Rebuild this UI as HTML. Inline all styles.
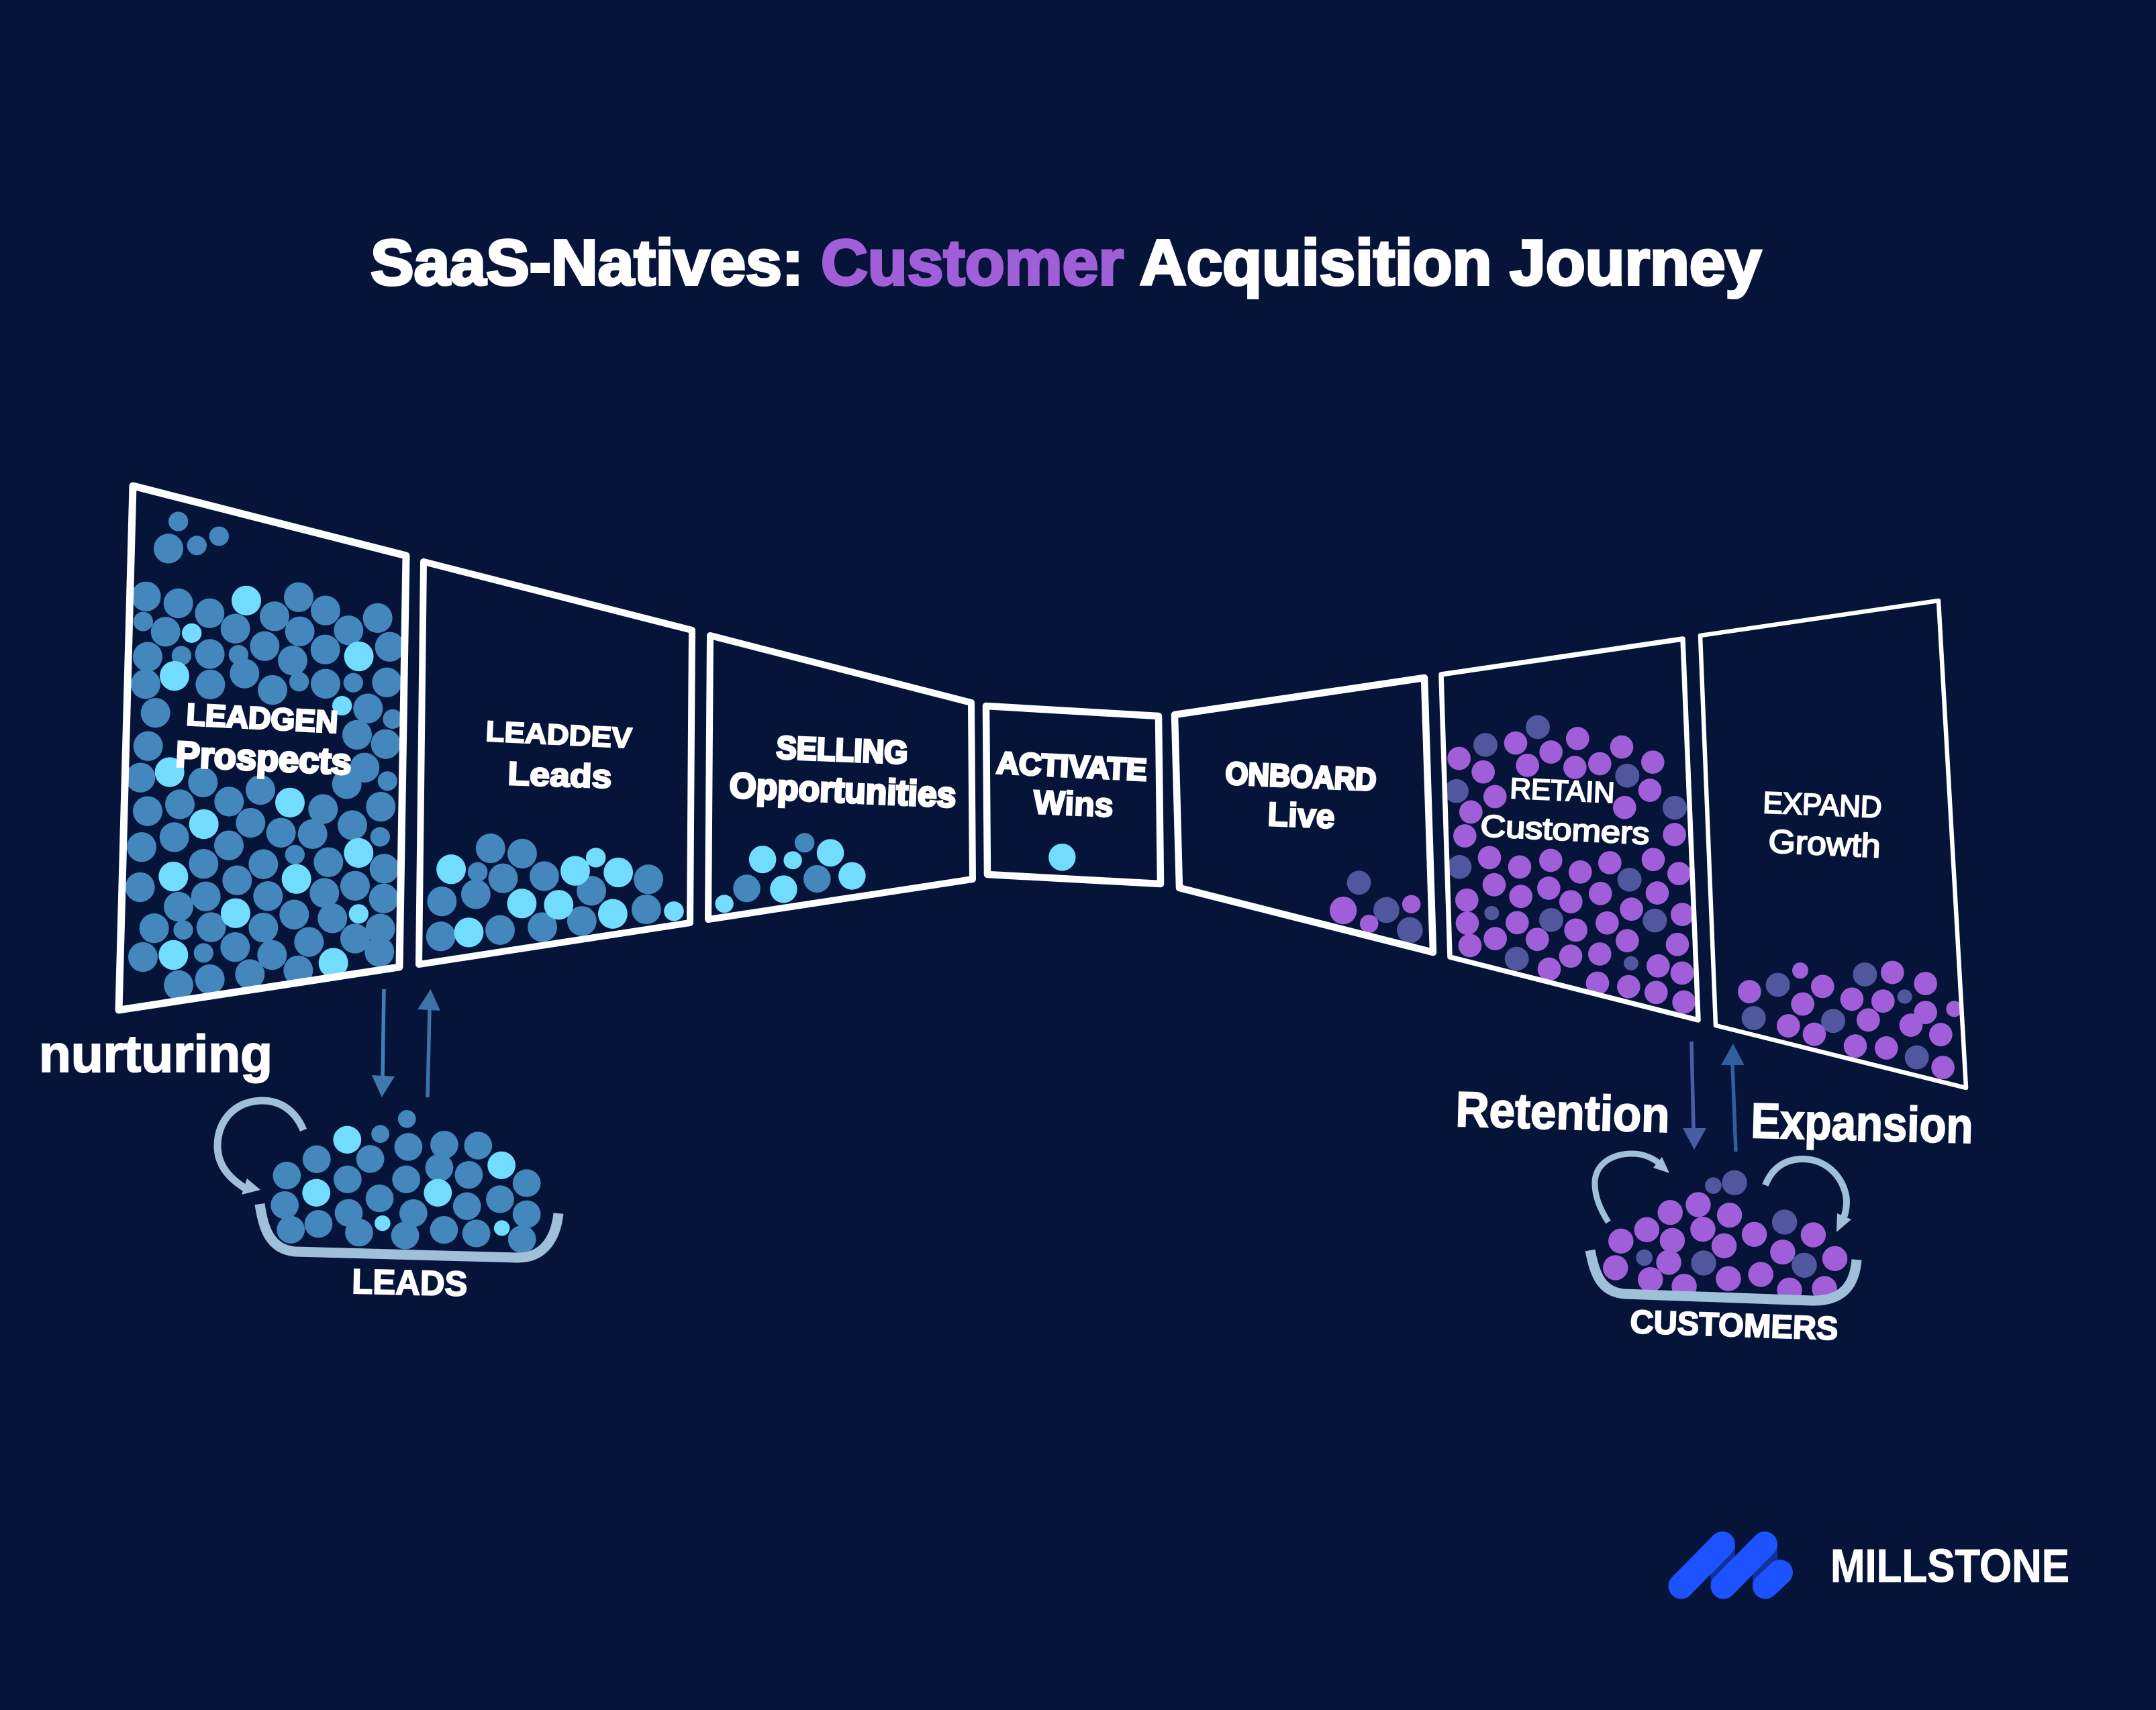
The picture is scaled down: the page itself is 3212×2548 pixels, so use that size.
<!DOCTYPE html>
<html><head><meta charset="utf-8"><title>SaaS-Natives: Customer Acquisition Journey</title>
<style>
html,body{margin:0;padding:0;background:#061439;}
svg{display:block}
text{font-family:"Liberation Sans",Arial,sans-serif;font-weight:700;fill:#fff;stroke:#fff;stroke-width:2px}
.p{fill:none;stroke:#fff;stroke-linejoin:round}
.pale{fill:none;stroke:#a0bfd9}
</style></head><body>
<svg width="3212" height="2548" viewBox="0 0 3212 2548" xmlns="http://www.w3.org/2000/svg">
<rect width="3212" height="2548" fill="#061439"/>
<defs>
<ellipse id="b1" rx="66" ry="43.5" fill="#4387bd"/><ellipse id="c1" rx="66" ry="43.5" fill="#72dcff"/><ellipse id="s1" rx="44" ry="28.5" fill="#4387bd"/><ellipse id="t1" rx="44" ry="28.5" fill="#72dcff"/>
<ellipse id="b3" rx="40" ry="56" fill="#4387bd"/><ellipse id="c3" rx="40" ry="56" fill="#72dcff"/><ellipse id="s3" rx="27" ry="37" fill="#4387bd"/><ellipse id="t3" rx="27" ry="37" fill="#72dcff"/>
<ellipse id="b4" rx="37" ry="52" fill="#4387bd"/><ellipse id="c4" rx="37" ry="52" fill="#72dcff"/><ellipse id="t4" rx="25" ry="34" fill="#72dcff"/>
<ellipse id="p5" rx="52" ry="44" fill="#a05fd8"/><ellipse id="i5" rx="54" ry="45" fill="#51579f"/><ellipse id="j5" rx="33" ry="27" fill="#51579f"/>
<ellipse id="p6" rx="52" ry="36" fill="#a05fd8"/><ellipse id="i6" rx="54" ry="37" fill="#51579f"/><ellipse id="q6" rx="36" ry="25" fill="#a05fd8"/><ellipse id="j6" rx="33" ry="22" fill="#51579f"/>
<ellipse id="b2" rx="39" ry="62" fill="#4387bd"/><ellipse id="c2" rx="39" ry="62" fill="#72dcff"/><ellipse id="s2" rx="25" ry="40" fill="#4387bd"/><ellipse id="t2" rx="22" ry="35" fill="#72dcff"/>
<ellipse id="p7" rx="35" ry="56" fill="#a05fd8"/><ellipse id="i7" rx="35" ry="56" fill="#51579f"/><ellipse id="j7" rx="23" ry="37" fill="#51579f"/>
<clipPath id="k1"><polygon points="198,724 605,828 595,1441 177,1505"/></clipPath>
<clipPath id="k2"><polygon points="631,837 1031,939 1028,1375 624,1437"/></clipPath>
<clipPath id="k6"><polygon points="2147,1005 2507,952 2530,1520 2160,1426"/></clipPath>
<clipPath id="k7"><polygon points="2533,947 2888,895 2929,1621 2556,1528"/></clipPath>
<clipPath id="k5"><polygon points="1750,1065 2122,1010 2135,1419 1757,1323"/></clipPath>
</defs>

<!-- title -->
<text x="552" y="424" font-size="96" textLength="645" lengthAdjust="spacingAndGlyphs" style="stroke-width:4px">SaaS-Natives:</text>
<text x="1223" y="424" font-size="96" textLength="451" lengthAdjust="spacingAndGlyphs" style="fill:#a05fd8;stroke:#a05fd8;stroke-width:4px">Customer</text>
<text x="1698" y="424" font-size="96" textLength="926" lengthAdjust="spacingAndGlyphs" style="stroke-width:4px">Acquisition Journey</text>

<!-- panel 1 balls -->
<g clip-path="url(#k1)"><g transform="translate(160 700) scale(.3333 .5102)">
<use href="#s1" x="317" y="151"/><use href="#s1" x="400" y="221"/><use href="#s1" x="499" y="194"/><use href="#b1" x="273" y="230"/>
<use href="#b1" x="173" y="370"/><use href="#b1" x="317" y="390"/><use href="#b1" x="457" y="419"/><use href="#c1" x="621" y="382"/><use href="#b1" x="855" y="372"/><use href="#b1" x="747" y="428"/><use href="#b1" x="975" y="411"/><use href="#b1" x="1208" y="433"/><use href="#b1" x="1078" y="469"/><use href="#b1" x="860" y="472"/><use href="#b1" x="572" y="464"/><use href="#b1" x="260" y="473"/><use href="#s1" x="160" y="443"/><use href="#t1" x="377" y="477"/>
<use href="#b1" x="180" y="546"/><use href="#s1" x="331" y="543"/><use href="#b1" x="458" y="538"/><use href="#s1" x="586" y="540"/><use href="#b1" x="703" y="515"/><use href="#b1" x="828" y="557"/><use href="#b1" x="974" y="525"/><use href="#c1" x="1124" y="545"/><use href="#b1" x="1262" y="517"/><use href="#b1" x="171" y="626"/><use href="#c1" x="300" y="602"/><use href="#b1" x="460" y="627"/><use href="#b1" x="613" y="595"/><use href="#b1" x="738" y="643"/><use href="#s1" x="857" y="619"/><use href="#b1" x="975" y="625"/><use href="#s1" x="1099" y="622"/><use href="#b1" x="1249" y="621"/>
<use href="#t1" x="1049" y="689"/><use href="#b1" x="1165" y="697"/><use href="#s1" x="1275" y="728"/><use href="#b1" x="215" y="710"/><use href="#b1" x="1116" y="774"/><use href="#b1" x="1244" y="801"/><use href="#b1" x="182" y="807"/><use href="#b1" x="1070" y="918"/><use href="#b1" x="1150" y="870"/><use href="#b1" x="148" y="899"/><use href="#c1" x="278" y="883"/><use href="#b1" x="427" y="913"/><use href="#s1" x="1252" y="909"/><use href="#b1" x="684" y="935"/>
<use href="#c1" x="816" y="972"/><use href="#b1" x="544" y="969"/><use href="#b1" x="964" y="991"/><use href="#b1" x="324" y="977"/><use href="#b1" x="180" y="997"/><use href="#b1" x="1222" y="984"/><use href="#c1" x="431" y="1035"/><use href="#b1" x="640" y="1031"/><use href="#b1" x="1095" y="1038"/><use href="#b1" x="776" y="1060"/><use href="#b1" x="917" y="1064"/><use href="#s1" x="1219" y="1072"/><use href="#b1" x="299" y="1073"/><use href="#b1" x="153" y="1102"/><use href="#b1" x="543" y="1097"/><use href="#s1" x="838" y="1124"/><use href="#c1" x="1123" y="1119"/><use href="#b1" x="697" y="1152"/><use href="#b1" x="430" y="1151"/><use href="#b1" x="988" y="1146"/><use href="#b1" x="1238" y="1165"/>
<use href="#c1" x="295" y="1188"/><use href="#c1" x="845" y="1195"/><use href="#b1" x="580" y="1199"/><use href="#b1" x="146" y="1219"/><use href="#b1" x="1107" y="1215"/><use href="#b1" x="970" y="1236"/><use href="#b1" x="440" y="1246"/><use href="#b1" x="718" y="1245"/><use href="#b1" x="1235" y="1252"/><use href="#b1" x="318" y="1276"/><use href="#b1" x="835" y="1299"/><use href="#b1" x="1006" y="1310"/><use href="#t1" x="1123" y="1297"/><use href="#b1" x="209" y="1339"/><use href="#s1" x="339" y="1344"/><use href="#b1" x="464" y="1336"/><use href="#c1" x="573" y="1295"/><use href="#b1" x="697" y="1337"/><use href="#b1" x="1220" y="1340"/><use href="#b1" x="901" y="1379"/><use href="#b1" x="1107" y="1369"/><use href="#b1" x="1216" y="1408"/><use href="#b1" x="159" y="1423"/><use href="#c1" x="295" y="1417"/><use href="#s1" x="430" y="1411"/><use href="#b1" x="571" y="1394"/><use href="#b1" x="736" y="1417"/><use href="#c1" x="1010" y="1440"/><use href="#b1" x="853" y="1462"/><use href="#b1" x="637" y="1473"/><use href="#b1" x="458" y="1488"/><use href="#b1" x="318" y="1505"/>
</g></g>

<!-- panel 2 balls -->
<g clip-path="url(#k2)"><g transform="translate(620 820) scale(.5485 .3954)">
<use href="#b3" x="202" y="1123"/><use href="#b3" x="288" y="1143"/><use href="#c3" x="95" y="1202"/><use href="#s3" x="167" y="1212"/><use href="#b3" x="162" y="1296"/><use href="#b3" x="236" y="1236"/><use href="#b3" x="348" y="1228"/><use href="#b3" x="476" y="1283"/><use href="#c3" x="432" y="1208"/><use href="#t3" x="488" y="1158"/><use href="#c3" x="549" y="1214"/><use href="#b3" x="631" y="1240"/><use href="#b3" x="70" y="1323"/><use href="#c3" x="287" y="1331"/><use href="#b3" x="343" y="1420"/><use href="#b3" x="450" y="1397"/><use href="#c3" x="387" y="1336"/><use href="#c3" x="534" y="1370"/><use href="#b3" x="625" y="1353"/><use href="#t3" x="700" y="1360"/><use href="#b3" x="228" y="1431"/><use href="#b3" x="67" y="1455"/><use href="#c3" x="143" y="1440"/>
</g></g>

<!-- panel 3 balls -->
<g transform="translate(620 820) scale(.5485 .3954)">
<ellipse cx="1055" cy="1102" rx="27" ry="37" fill="#4387bd"/><use href="#c4" x="941" y="1165"/><use href="#t4" x="1023" y="1168"/><use href="#c4" x="1125" y="1140"/><use href="#b4" x="1089" y="1238"/><use href="#c4" x="1184" y="1227"/><use href="#b4" x="898" y="1274"/><use href="#c4" x="998" y="1277"/><use href="#t4" x="837" y="1332"/>
</g>

<!-- panel 4 + 5 balls -->
<g clip-path="url(#k5)"><g transform="translate(1440 980) scale(.4592 .3333)">
<ellipse cx="1273" cy="1006" rx="39" ry="54" fill="#51579f"/><ellipse cx="1222" cy="1130" rx="44" ry="62" fill="#a05fd8"/><ellipse cx="1306" cy="1190" rx="30" ry="41" fill="#a05fd8"/><ellipse cx="1362" cy="1128" rx="42" ry="58" fill="#51579f"/><ellipse cx="1443" cy="1102" rx="30" ry="41" fill="#a05fd8"/><ellipse cx="1438" cy="1218" rx="42" ry="58" fill="#51579f"/>
</g></g>
<g transform="translate(1440 980) scale(.4592 .3333)"><ellipse cx="310" cy="892" rx="44" ry="61" fill="#72dcff"/></g>

<!-- panel 6 balls -->
<g clip-path="url(#k6)"><g transform="translate(2130 930) scale(.3333 .3954)">
<use href="#i5" x="483" y="388"/><use href="#p5" x="661" y="431"/><use href="#i5" x="249" y="455"/><use href="#p5" x="384" y="448"/><use href="#p5" x="858" y="463"/><use href="#p5" x="542" y="482"/><use href="#p5" x="131" y="506"/><use href="#p5" x="437" y="532"/><use href="#p5" x="649" y="540"/><use href="#p5" x="760" y="526"/><use href="#p5" x="997" y="520"/><use href="#p5" x="239" y="557"/><use href="#i5" x="883" y="571"/><use href="#p5" x="984" y="626"/><use href="#i5" x="120" y="629"/><use href="#p5" x="292" y="650"/><use href="#i5" x="1095" y="692"/><use href="#p5" x="871" y="691"/><use href="#p5" x="184" y="708"/><use href="#p5" x="1094" y="793"/><use href="#p5" x="157" y="798"/><use href="#p5" x="267" y="880"/><use href="#p5" x="999" y="887"/><use href="#p5" x="541" y="890"/><use href="#p5" x="805" y="899"/><use href="#i5" x="133" y="915"/><use href="#p5" x="402" y="915"/><use href="#p5" x="673" y="934"/><use href="#p5" x="1114" y="940"/><use href="#i5" x="893" y="963"/><use href="#p5" x="288" y="982"/><use href="#p5" x="532" y="995"/><use href="#p5" x="763" y="1015"/><use href="#p5" x="1017" y="1013"/><use href="#p5" x="407" y="1026"/><use href="#p5" x="631" y="1046"/><use href="#p5" x="166" y="1040"/><use href="#p5" x="902" y="1074"/><use href="#j5" x="277" y="1089"/><use href="#p5" x="1129" y="1094"/><use href="#i5" x="1006" y="1117"/><use href="#i5" x="543" y="1115"/><use href="#p5" x="168" y="1127"/><use href="#p5" x="391" y="1125"/><use href="#p5" x="793" y="1126"/><use href="#p5" x="653" y="1153"/><use href="#p5" x="293" y="1185"/><use href="#p5" x="481" y="1188"/><use href="#p5" x="883" y="1193"/><use href="#p5" x="1107" y="1207"/><use href="#p5" x="180" y="1211"/><use href="#p5" x="760" y="1243"/><use href="#p5" x="630" y="1251"/><use href="#i5" x="389" y="1261"/><use href="#j5" x="900" y="1278"/><use href="#p5" x="1021" y="1288"/><use href="#p5" x="534" y="1300"/><use href="#p5" x="1128" y="1315"/><use href="#p5" x="750" y="1353"/><use href="#p5" x="889" y="1366"/><use href="#p5" x="1012" y="1388"/><use href="#p5" x="1136" y="1424"/>
</g></g>

<!-- panel 7 balls -->
<g clip-path="url(#k7)"><g transform="translate(2520 880) scale(.3333 .4847)">
<use href="#q6" x="486" y="1168"/><use href="#i6" x="775" y="1180"/><use href="#p6" x="898" y="1174"/><use href="#i6" x="386" y="1212"/><use href="#p6" x="586" y="1217"/><use href="#p6" x="1046" y="1208"/><use href="#p6" x="259" y="1233"/><use href="#j6" x="953" y="1248"/><use href="#p6" x="717" y="1256"/><use href="#p6" x="856" y="1262"/><use href="#p6" x="497" y="1271"/><use href="#p6" x="981" y="1336"/><use href="#p6" x="1046" y="1297"/><use href="#q6" x="1174" y="1286"/><use href="#i6" x="278" y="1314"/><use href="#p6" x="790" y="1320"/><use href="#i6" x="633" y="1323"/><use href="#p6" x="433" y="1338"/><use href="#p6" x="549" y="1364"/><use href="#p6" x="1114" y="1365"/><use href="#p6" x="732" y="1400"/><use href="#p6" x="871" y="1406"/><use href="#i6" x="1007" y="1435"/><use href="#p6" x="1124" y="1466"/>
</g></g>

<!-- panels -->
<polygon class="p" stroke-width="11" points="198,724 605,828 595,1441 177,1505"/>
<polygon class="p" stroke-width="10" points="631,837 1031,939 1028,1375 624,1437"/>
<polygon class="p" stroke-width="10" points="1058,947 1447,1047 1449,1310 1055,1370"/>
<polygon class="p" stroke-width="10.5" points="1469,1052 1726,1067 1729,1317 1471,1303"/>
<polygon class="p" stroke-width="10.5" points="1750,1065 2122,1010 2135,1419 1757,1323"/>
<polygon class="p" stroke-width="7.5" points="2147,1005 2507,952 2530,1520 2160,1426"/>
<polygon class="p" stroke-width="6.5" points="2533,947 2888,895 2929,1621 2556,1528"/>

<!-- panel labels -->
<text transform="translate(277 1080) rotate(3)" font-size="46" textLength="226" lengthAdjust="spacingAndGlyphs" style="stroke-width:3px">LEADGEN</text>
<text transform="translate(261 1142) rotate(2.6)" font-size="54" textLength="262" lengthAdjust="spacingAndGlyphs" style="stroke-width:3.5px">Prospects</text>
<text transform="translate(723 1104) rotate(2.8)" font-size="43" textLength="218" lengthAdjust="spacingAndGlyphs">LEADDEV</text>
<text transform="translate(756 1169) rotate(1.9)" font-size="49" textLength="155" lengthAdjust="spacingAndGlyphs" style="stroke-width:2.5px">Leads</text>
<text transform="translate(1156 1130) rotate(2.3)" font-size="48" textLength="196" lengthAdjust="spacingAndGlyphs" style="stroke-width:3.5px">SELLING</text>
<text transform="translate(1086 1188) rotate(2.5)" font-size="53" textLength="338" lengthAdjust="spacingAndGlyphs" style="stroke-width:3.5px">Opportunities</text>
<text transform="translate(1484 1152) rotate(2.8)" font-size="46" textLength="224" lengthAdjust="spacingAndGlyphs" style="stroke-width:3.5px">ACTIVATE</text>
<text transform="translate(1539 1212) rotate(2.4)" font-size="50" textLength="119" lengthAdjust="spacingAndGlyphs" style="stroke-width:2.5px">Wins</text>
<text transform="translate(1825 1168) rotate(2.5)" font-size="47" textLength="225" lengthAdjust="spacingAndGlyphs" style="stroke-width:3.5px">ONBOARD</text>
<text transform="translate(1888 1230) rotate(2.3)" font-size="50" textLength="100" lengthAdjust="spacingAndGlyphs" style="stroke-width:2.5px">Live</text>
<text transform="translate(2249 1189) rotate(2.6)" font-size="43" textLength="156" lengthAdjust="spacingAndGlyphs" style="font-weight:400;stroke-width:2.2px">RETAIN</text>
<text transform="translate(2205 1246) rotate(2.7)" font-size="46" textLength="252" lengthAdjust="spacingAndGlyphs" style="font-weight:400;stroke-width:2.2px">Customers</text>
<text transform="translate(2626 1211) rotate(2.3)" font-size="45" textLength="177" lengthAdjust="spacingAndGlyphs" style="font-weight:400;stroke-width:2.2px">EXPAND</text>
<text transform="translate(2634 1270) rotate(2.6)" font-size="49" textLength="167" lengthAdjust="spacingAndGlyphs" style="font-weight:400;stroke-width:2.2px">Growth</text>

<!-- left lower -->
<text x="58" y="1597" font-size="78" textLength="348" lengthAdjust="spacingAndGlyphs">nurturing</text>
<path d="M572,1474 L570,1604" stroke="#3f7fb8" stroke-width="5.5" fill="none"/>
<polygon points="554,1602 588,1604 568.7,1635" fill="#3f78ad"/>
<path d="M637,1635 L640,1504" stroke="#3f72a6" stroke-width="5.5" fill="none"/>
<polygon points="622,1504 656,1506 641.5,1474" fill="#3f72a6"/>
<g transform="translate(40 1440) scale(.5357 .3333)">
<use href="#s2" x="1057" y="682"/><use href="#c2" x="891" y="775"/><use href="#s2" x="983" y="749"/><use href="#b2" x="1061" y="807"/><use href="#b2" x="1161" y="797"/><use href="#b2" x="1255" y="801"/><use href="#b2" x="806" y="862"/><use href="#b2" x="955" y="861"/><use href="#b2" x="1147" y="900"/><use href="#c2" x="1320" y="889"/><use href="#b2" x="1229" y="932"/><use href="#b2" x="723" y="935"/><use href="#b2" x="892" y="952"/><use href="#b2" x="1055" y="952"/><use href="#b2" x="1390" y="969"/><use href="#c2" x="805" y="1012"/><use href="#c2" x="1143" y="1012"/><use href="#b2" x="981" y="1037"/><use href="#b2" x="1316" y="1041"/><use href="#b2" x="717" y="1067"/><use href="#b2" x="1224" y="1072"/><use href="#b2" x="895" y="1102"/><use href="#b2" x="1075" y="1103"/><use href="#b2" x="1390" y="1108"/><use href="#b2" x="811" y="1151"/><use href="#t2" x="989" y="1148"/><use href="#t2" x="1321" y="1170"/><use href="#b2" x="1160" y="1178"/><use href="#b2" x="734" y="1177"/><use href="#b2" x="924" y="1190"/><use href="#b2" x="1052" y="1203"/><use href="#b2" x="1250" y="1194"/><use href="#b2" x="1377" y="1220"/>
</g>
<path class="pale" stroke-width="11" d="M452,1684 C440,1655 418,1640 391,1640 C350,1640 324,1670 324,1707 C324,1735 340,1755 366,1771"/>
<polygon points="368,1756 388,1773 360,1780" fill="#a0bfd9"/>
<path class="pale" stroke-width="15" d="M387,1794 C392,1830 402,1862 440,1865 L770,1874 C810,1875 828,1845 832,1808"/>
<text transform="translate(524 1927) rotate(1.3)" font-size="52" textLength="172" lengthAdjust="spacingAndGlyphs">LEADS</text>

<!-- right lower -->
<text transform="translate(2168 1678) rotate(1.6)" font-size="74" textLength="319" lengthAdjust="spacingAndGlyphs">Retention</text>
<text transform="translate(2608 1695) rotate(1.4)" font-size="74" textLength="331" lengthAdjust="spacingAndGlyphs">Expansion</text>
<path d="M2520,1552 L2523,1682" stroke="#4a5ca6" stroke-width="5.5" fill="none"/>
<polygon points="2507,1681 2542,1681 2524,1713" fill="#4a5ca6"/>
<path d="M2586,1716 L2581,1586" stroke="#2f609e" stroke-width="5.5" fill="none"/>
<polygon points="2564,1587 2598.5,1587 2582,1555" fill="#2f609e"/>
<g transform="translate(2140 1530) scale(.5357 .3333)">
<use href="#j7" x="770" y="710"/><use href="#i7" x="829" y="697"/><use href="#p7" x="728" y="795"/><use href="#p7" x="650" y="830"/><use href="#p7" x="815" y="842"/><use href="#p7" x="585" y="907"/><use href="#p7" x="741" y="905"/><use href="#p7" x="884" y="928"/><use href="#i7" x="968" y="873"/><use href="#p7" x="1048" y="930"/><use href="#p7" x="513" y="958"/><use href="#p7" x="656" y="955"/><use href="#p7" x="800" y="979"/><use href="#p7" x="963" y="1007"/><use href="#p7" x="1108" y="1036"/><use href="#p7" x="498" y="1077"/><use href="#j7" x="578" y="1032"/><use href="#p7" x="646" y="1053"/><use href="#i7" x="743" y="1056"/><use href="#i7" x="1023" y="1066"/><use href="#p7" x="595" y="1130"/><use href="#p7" x="689" y="1160"/><use href="#p7" x="812" y="1126"/><use href="#p7" x="902" y="1107"/><use href="#p7" x="982" y="1177"/><use href="#p7" x="1079" y="1170"/>
</g>
<path class="pale" stroke-width="9" d="M2396,1821 C2384,1802 2375,1782 2376,1760 C2378,1735 2400,1719 2432,1719 C2450,1719 2466,1727 2477,1738"/>
<polygon points="2476,1724 2487,1748 2463,1740" fill="#a0bfd9"/>
<path class="pale" stroke-width="10" d="M2630,1766 C2640,1740 2660,1727 2686,1727 C2725,1727 2750,1760 2751,1790 C2751,1800 2749,1810 2746,1815"/>
<polygon points="2737,1808 2758,1817 2736,1836" fill="#a0bfd9"/>
<path class="pale" stroke-width="15" d="M2369,1863 C2376,1900 2386,1925 2420,1928 L2700,1938 C2745,1939 2763,1915 2766,1877"/>
<text transform="translate(2428 1986) rotate(1.9)" font-size="49" textLength="310" lengthAdjust="spacingAndGlyphs">CUSTOMERS</text>

<!-- logo -->
<polygon points="2585,2298 2585,2332 2548.5,2368 2548.5,2340" fill="#12329b"/>
<polygon points="2648,2298 2648,2332 2611,2368 2611,2340" fill="#12329b"/>
<g stroke="#1c52ff" stroke-width="38" stroke-linecap="round" fill="none">
<path d="M2504.5,2363.5 L2566,2301"/>
<path d="M2567.5,2363.5 L2629,2301"/>
<path d="M2630,2363.5 L2652,2343"/>
</g>
<text x="2727" y="2357" font-size="70" textLength="356" lengthAdjust="spacingAndGlyphs" style="stroke-width:1px">MILLSTONE</text>
</svg>
</body></html>
